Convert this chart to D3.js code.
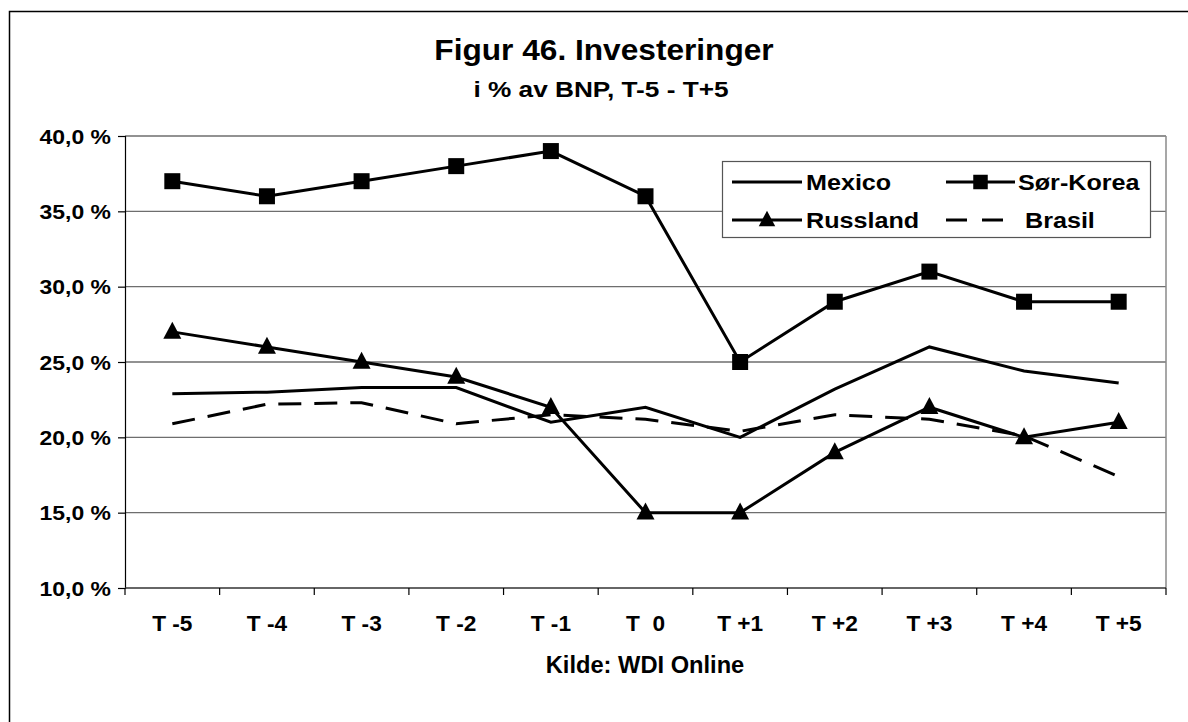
<!DOCTYPE html>
<html>
<head>
<meta charset="utf-8">
<script src="https://cdn.jsdelivr.net/npm/d3@7"></script>
<style>
  body { margin: 0; background: #fff; }
  svg { display: block; }
  text { font-family: "Liberation Sans", Arial, sans-serif; font-weight: bold; fill: #000; }
</style>
</head>
<body>
<svg id="chart" width="1188" height="722"></svg>
<script>
const categories = ["T -5", "T -4", "T -3", "T -2", "T -1", "T  0", "T +1", "T +2", "T +3", "T +4", "T +5"];
const mexico   = [22.9, 23.0, 23.3, 23.3, 21.0, 22.0, 20.0, 23.2, 26.0, 24.4, 23.6];
const sorKorea = [37, 36, 37, 38, 39, 36, 25, 29, 31, 29, 29];
const russland = [27, 26, 25, 24, 22, 15, 15, 19, 22, 20, 21];
const brasil   = [20.9, 22.2, 22.3, 20.9, 21.5, 21.2, 20.4, 21.5, 21.2, 20.1, 17.4];
const yTicks   = [10, 15, 20, 25, 30, 35, 40];
const titleText = "Figur 46. Investeringer";
const subtitleText = "i % av BNP, T-5 - T+5";
const sourceText = "Kilde: WDI Online";

const series = [
  { name: "Mexico", values: mexico, marker: null, dash: null },
  { name: "Sør-Korea", values: sorKorea, marker: "square", dash: null },
  { name: "Russland", values: russland, marker: "triangle", dash: null },
  { name: "Brasil", values: brasil, marker: null, dash: "23,13" }
];

const svg = d3.select("#chart");
const plot = { left: 125, right: 1166, top: 136, bottom: 588 };

// outer border
svg.append("rect").attr("x", 9.5).attr("y", 11.5).attr("width", 1300).attr("height", 800)
  .attr("fill", "none").attr("stroke", "#000").attr("stroke-width", 1.5);

const x = d3.scaleBand().domain(categories).range([plot.left, plot.right]).padding(0);
const y = d3.scaleLinear().domain([10, 40]).range([plot.bottom, plot.top]);

function stretchedText(sel, tx, ty, str, size, sx, anchor) {
  return sel.append("text")
    .attr("transform", `translate(${tx},${ty}) scale(${sx},1)`)
    .attr("text-anchor", anchor || "middle")
    .attr("xml:space", "preserve")
    .style("white-space", "pre")
    .style("font-size", size + "px")
    .text(str);
}

// gridlines
svg.append("g").selectAll("line").data(yTicks.filter(d => d > 10)).join("line")
  .attr("x1", plot.left).attr("x2", plot.right)
  .attr("y1", d => y(d)).attr("y2", d => y(d))
  .attr("stroke", "#6e6e6e").attr("stroke-width", 1.4);

// right border of plot area
svg.append("line").attr("x1", plot.right).attr("x2", plot.right)
  .attr("y1", plot.top).attr("y2", plot.bottom)
  .attr("stroke", "#8a8a8a").attr("stroke-width", 1.5);

// y axis
const yAxis = d3.axisLeft(y).tickValues(yTicks).tickSize(7).tickFormat(() => "");
const gy = svg.append("g").attr("transform", `translate(${plot.left},0)`).call(yAxis);
gy.select(".domain").attr("stroke", "#000").attr("stroke-width", 1.2);
gy.selectAll(".tick line").attr("stroke", "#000").attr("stroke-width", 1.2);
const fmt = d => d3.format(".1f")(d).replace(".", ",") + " %";
yTicks.forEach(t => {
  stretchedText(svg, 111, y(t) + 7.8, fmt(t), 20.5, 1.12, "end");
});

// x axis
const gx = svg.append("g").attr("transform", `translate(0,${plot.bottom})`);
gx.append("line").attr("x1", plot.left).attr("x2", plot.right)
  .attr("stroke", "#333").attr("stroke-width", 1.6);
const boundaries = categories.map(c => x(c)).concat([x(categories[categories.length - 1]) + x.bandwidth()]);
gx.selectAll("line.tk").data(boundaries).join("line").attr("class", "tk")
  .attr("x1", d => d).attr("x2", d => d).attr("y1", 0).attr("y2", 7)
  .attr("stroke", "#000").attr("stroke-width", 1.2);
categories.forEach(c => {
  stretchedText(svg, x(c) + x.bandwidth() / 2, 631, c, 22, 1.03);
});

// lines
const line = d3.line().x((d, i) => x(categories[i]) + x.bandwidth() / 2).y(d => y(d));
series.forEach(s => {
  svg.append("path").datum(s.values).attr("d", line)
    .attr("fill", "none").attr("stroke", "#000").attr("stroke-width", 3)
    .attr("stroke-linejoin", "miter")
    .attr("stroke-dasharray", s.dash);
});

function drawMarker(g, type, cx, cy, big) {
  if (type === "square") {
    const s = big ? 16 : 14.5;
    g.append("rect").attr("x", cx - s / 2).attr("y", cy - s / 2).attr("width", s).attr("height", s).attr("fill", "#000");
  } else if (type === "triangle") {
    const w = big ? 18 : 16.5, h = big ? 17 : 15.5;
    g.append("path").attr("d", `M${cx},${cy - h * 0.6}L${cx + w / 2},${cy + h * 0.4}L${cx - w / 2},${cy + h * 0.4}Z`).attr("fill", "#000");
  }
}
series.filter(s => s.marker).forEach(s => {
  const g = svg.append("g");
  s.values.forEach((v, i) => drawMarker(g, s.marker, x(categories[i]) + x.bandwidth() / 2, y(v), true));
});

// titles
stretchedText(svg, 604, 60, titleText, 30, 1.055);
stretchedText(svg, 601, 97, subtitleText, 21.5, 1.22);
stretchedText(svg, 645, 673, sourceText, 23, 1.03);

// legend
const lg = svg.append("g");
lg.append("rect").attr("x", 722.5).attr("y", 161.5).attr("width", 428).attr("height", 76)
  .attr("fill", "#fff").attr("stroke", "#555").attr("stroke-width", 1.2);
const legendPos = [
  { s: series[0], x0: 732, x1: 802, tx: 806, ty: 182 },
  { s: series[1], x0: 946, x1: 1015, tx: 1018, ty: 182 },
  { s: series[2], x0: 732, x1: 802, tx: 806, ty: 220 },
  { s: series[3], x0: 946, x1: 1003, tx: 1025, ty: 220 }
];
legendPos.forEach(p => {
  lg.append("line").attr("x1", p.x0).attr("x2", p.x1).attr("y1", p.ty).attr("y2", p.ty)
    .attr("stroke", "#000").attr("stroke-width", 3).attr("stroke-dasharray", p.s.dash ? "21,15" : null);
  if (p.s.marker) drawMarker(lg, p.s.marker, (p.x0 + p.x1) / 2, p.ty, false);
  stretchedText(lg, p.tx, p.ty + 8, p.s.name, 21.5, 1.17, "start");
});
</script>
</body>
</html>
